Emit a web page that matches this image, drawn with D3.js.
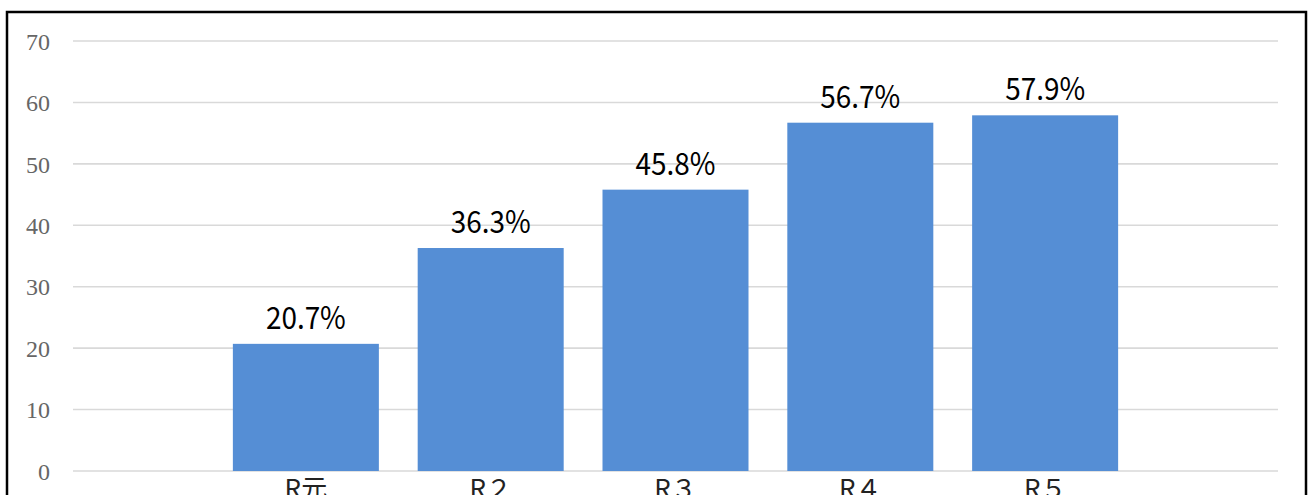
<!DOCTYPE html>
<html>
<head>
<meta charset="utf-8">
<script src="https://cdn.jsdelivr.net/npm/d3@7"></script>
<style>
  html, body { margin: 0; padding: 0; background: #fff; }
  svg { display: block; }
</style>
</head>
<body>
<svg id="chart" width="1309" height="495"></svg>
<script>
// Fiscal years (Reiwa era) and their percentages
const categories = ["R元", "R２", "R３", "R４", "R５"];
const values = [20.7, 36.3, 45.8, 56.7, 57.9];
const yTicks = [0, 10, 20, 30, 40, 50, 60, 70];

const svg = d3.select("#chart");
const plot = { left: 73, right: 1278, top: 41, bottom: 471 };

// Outer frame (bottom edge runs past the visible area)
svg.append("rect")
  .attr("x", 7).attr("y", 12)
  .attr("width", 1299).attr("height", 520)
  .attr("fill", "#fff")
  .attr("stroke", "#000")
  .attr("stroke-width", 2.5);

const x = d3.scaleBand()
  .domain(categories)
  .range([plot.left, plot.right])
  .paddingInner(0.21)
  .paddingOuter(0.865);

const y = d3.scaleLinear()
  .domain([0, 70])
  .range([plot.bottom, plot.top]);

// Horizontal gridlines
svg.append("g")
  .selectAll("line")
  .data(yTicks)
  .join("line")
  .attr("x1", plot.left).attr("x2", plot.right)
  .attr("y1", d => y(d)).attr("y2", d => y(d))
  .attr("stroke", "#d9d9d9")
  .attr("stroke-width", 1.6);

// Y axis labels
const yAxis = d3.axisLeft(y).tickValues(yTicks).tickSize(0).tickPadding(0);
const gy = svg.append("g")
  .attr("transform", "translate(50,0)")
  .call(yAxis);
gy.select(".domain").remove();
gy.selectAll("text")
  .attr("fill", "#666")
  .attr("font-family", "'Liberation Serif', 'DejaVu Serif', serif")
  .attr("font-size", 24)
  .attr("dy", "0.34em");

// Bars
svg.append("g")
  .selectAll("rect")
  .data(values)
  .join("rect")
  .attr("x", (d, i) => x(categories[i]))
  .attr("y", d => y(d))
  .attr("width", x.bandwidth())
  .attr("height", d => y(0) - y(d))
  .attr("fill", "#558ed5");

// Value labels: tall, slightly condensed gothic digits
const labels = svg.append("g")
  .selectAll("text")
  .data(values)
  .join("text")
  .attr("x", (d, i) => x(categories[i]) + x.bandwidth() / 2)
  .attr("y", d => y(d) - 15)
  .attr("text-anchor", "middle")
  .attr("font-family", "'Noto Sans CJK JP', sans-serif")
  .attr("font-size", 31)
  .attr("fill", "#000")
  .text(d => d3.format(".1f")(d) + "%");
labels.each(function () {
  const len = this.getComputedTextLength();
  d3.select(this)
    .attr("textLength", len * 0.9)
    .attr("lengthAdjust", "spacingAndGlyphs");
});

// Category labels along the bottom
const xAxis = d3.axisBottom(x).tickSize(0).tickPadding(0);
const gx = svg.append("g")
  .attr("transform", `translate(0,${plot.bottom})`)
  .call(xAxis);
gx.select(".domain").remove();
gx.selectAll("text")
  .attr("fill", "#222")
  .attr("font-family", "'Noto Sans CJK JP', sans-serif")
  .attr("font-size", 26)
  .attr("dy", "1.05em");
</script>
</body>
</html>
